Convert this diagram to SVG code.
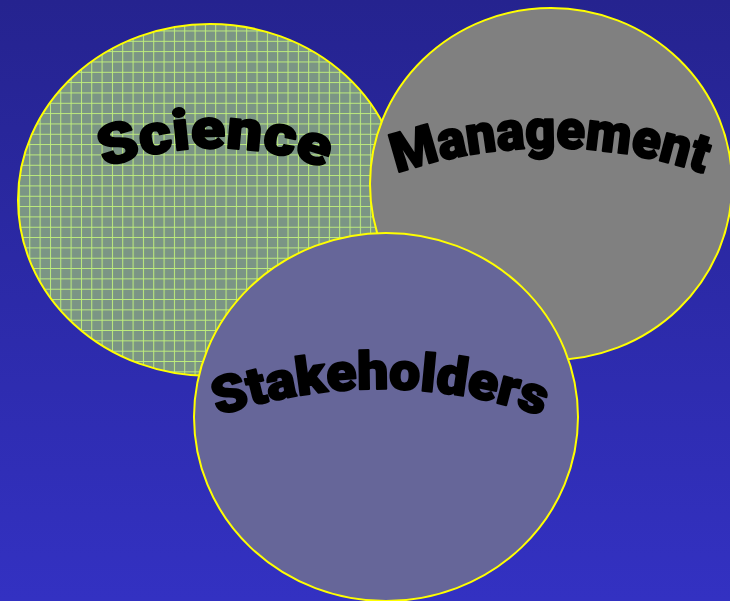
<svg xmlns="http://www.w3.org/2000/svg" xmlns:xlink="http://www.w3.org/1999/xlink" width="730" height="601" viewBox="0 0 730 601">
  <defs>
    <linearGradient id="bg" x1="0" y1="0" x2="0" y2="1">
      <stop offset="0" stop-color="#25238f"/>
      <stop offset="1" stop-color="#3331c2"/>
    </linearGradient>
    <pattern id="grid" patternUnits="userSpaceOnUse" x="-1.7" y="-0.5" width="10.33" height="10.33">
      <rect width="10.33" height="10.33" fill="#7b9585"/>
      <path d="M0.5 0 V10.33 M0 0.5 H10.33" stroke="#bfee7c" stroke-width="1" fill="none"/>
    </pattern>
    <path id="arcScience" d="M -35 273.3 A 312 312 0 0 1 465 273.3"/>
    <path id="arcManagement" d="M 250 254.7 A 475 475 0 0 1 850 254.7"/>
    <path id="arcStakeholders" d="M 80 489 A 500 500 0 0 1 680 489"/>
  </defs>
  <style>
    .circle { stroke: #ffff00; stroke-width: 2; }
    .label { font-family: Roboto, "Liberation Sans", Arial, sans-serif; font-weight: 900; fill: #000000; stroke: #000000; stroke-width: 2; stroke-linejoin: round; text-anchor: middle; }
  </style>
  <rect x="0" y="0" width="730" height="601" fill="url(#bg)"/>
  <g id="science">
    <ellipse class="circle" cx="210" cy="200" rx="192" ry="176" fill="url(#grid)"/>
    <text class="label" font-size="56"><textPath xlink:href="#arcScience" href="#arcScience" startOffset="50%" textLength="226" lengthAdjust="spacingAndGlyphs">Science</textPath></text>
  </g>
  <g id="management">
    <ellipse class="circle" cx="551" cy="184" rx="181" ry="176" fill="#808080"/>
    <text class="label" font-size="54"><textPath xlink:href="#arcManagement" href="#arcManagement" startOffset="50%" textLength="312" lengthAdjust="spacingAndGlyphs">Management</textPath></text>
  </g>
  <g id="stakeholders">
    <ellipse class="circle" cx="386" cy="417" rx="192" ry="184" fill="#666699"/>
    <text class="label" font-size="52"><textPath xlink:href="#arcStakeholders" href="#arcStakeholders" startOffset="50%" textLength="330" lengthAdjust="spacingAndGlyphs">Stakeholders</textPath></text>
  </g>
</svg>
